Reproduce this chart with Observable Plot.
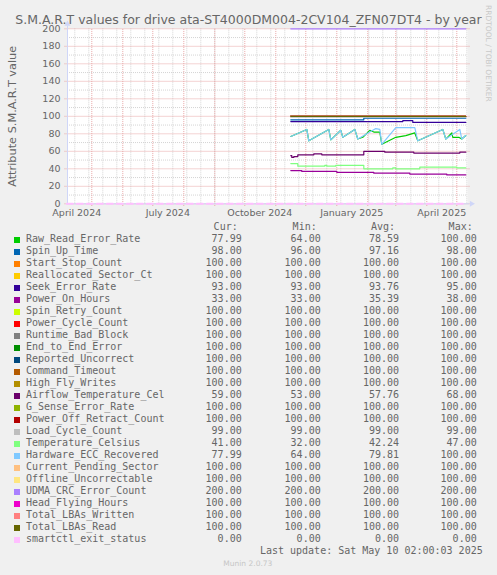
<!DOCTYPE html>
<html><head><meta charset="utf-8">
<script src="https://cdn.jsdelivr.net/npm/d3@7"></script>
<script src="https://cdn.jsdelivr.net/npm/@observablehq/plot@0.6"></script>
<style>
html,body{margin:0;padding:0;background:#f0f0f0;}
#page{position:relative;width:497px;height:575px;overflow:hidden;background:#f0f0f0;font-family:"DejaVu Sans",sans-serif;color:#666;}
.abs{position:absolute;white-space:pre;}
#title{left:0;top:15.67px;width:497px;text-align:center;font-size:12.5px;line-height:8px;}
#chart{position:absolute;left:0;top:24px;}
#rrd{left:483.5px;top:5px;font-size:7.5px;line-height:8px;writing-mode:vertical-rl;color:#c8c8c8;}
.mono{font-family:"DejaVu Sans Mono",monospace;font-size:10px;line-height:12px;}
#munin{left:223.3px;top:559.9px;font-size:7.5px;line-height:8px;color:#c6c6c6;}
</style></head><body>
<div id="page">
  <div id="title" class="abs">S.M.A.R.T values for drive ata-ST4000DM004-2CV104_ZFN07DT4 - by year</div>
  <div id="rrd" class="abs">RRDTOOL / TOBI OETIKER</div>
  <div id="chart"></div>
  <div id="legend"></div>
  <div id="munin" class="abs">Munin 2.0.73</div>
</div>
<script>
// ---- legend / series metadata ----
const names = ["Raw_Read_Error_Rate","Spin_Up_Time","Start_Stop_Count","Reallocated_Sector_Ct","Seek_Error_Rate","Power_On_Hours","Spin_Retry_Count","Power_Cycle_Count","Runtime_Bad_Block","End_to_End_Error","Reported_Uncorrect","Command_Timeout","High_Fly_Writes","Airflow_Temperature_Cel","G_Sense_Error_Rate","Power_Off_Retract_Count","Load_Cycle_Count","Temperature_Celsius","Hardware_ECC_Recovered","Current_Pending_Sector","Offline_Uncorrectable","UDMA_CRC_Error_Count","Head_Flying_Hours","Total_LBAs_Written","Total_LBAs_Read","smartctl_exit_status"];
const colors = ["#00CC00","#0066B3","#FF8000","#FFCC00","#330099","#990099","#CCFF00","#FF0000","#808080","#008F00","#00487D","#B35A00","#B38F00","#6B006B","#8FB300","#B30000","#BEBEBE","#80FF80","#80C9FF","#FFC080","#FFE680","#AA80FF","#EE00CC","#FF8080","#666600","#FFBFFF"];
const curVals = [77.99,98,100,100,93,33,100,100,100,100,100,100,100,59,100,100,99,41,77.99,100,100,200,100,100,100,0];
const minVals = [64,96,100,100,93,33,100,100,100,100,100,100,100,53,100,100,99,32,64,100,100,200,100,100,100,0];
const avgVals = [78.59,97.16,100,100,93.76,35.39,100,100,100,100,100,100,100,57.76,100,100,99,42.24,79.81,100,100,200,100,100,100,0];
const maxVals = [100,98,100,100,95,38,100,100,100,100,100,100,100,68,100,100,99,47,100,100,100,200,100,100,100,0];
const colHeaders = ["Cur:","Min:","Avg:","Max:"];
const lastUpdate = "Last update: Sat May 10 02:00:03 2025";

// ---- axis ticks ----
const yTicks = [0,20,40,60,80,100,120,140,160,180,200];
const xTickDates = ["2024-04-16","2024-07-16","2024-10-16","2025-01-16","2025-04-16"];
const xTickLabels = ["April 2024","July 2024","October 2024","January 2025","April 2025"];

// ---- series values (date, value) ----
const seriesStart = "2024-11-16", seriesEnd = "2025-05-10";
const rawReadErrorRate = [["2024-11-16",77],["2024-12-02",85],["2024-12-04",72],["2024-12-24",85],["2024-12-26",73],["2025-01-05",84],["2025-01-07",76],["2025-01-19",85],["2025-01-22",74],["2025-01-27",76],["2025-02-03",84],["2025-02-07",82],["2025-02-13",82],["2025-02-15",68],["2025-02-22",72],["2025-03-01",76],["2025-03-11",78],["2025-03-20",81],["2025-03-23",72],["2025-04-17",85],["2025-04-20",74],["2025-04-26",81],["2025-04-27",76],["2025-05-03",76],["2025-05-06",74],["2025-05-10",78]];
const spinUpTime = [["2024-11-16",96],["2025-01-28",98],["2025-05-10",98]];
const startStopCount = [[seriesStart,100],[seriesEnd,100]];
const reallocatedSectorCt = [[seriesStart,100],[seriesEnd,100]];
const seekErrorRate = [["2024-11-16",94],["2025-03-08",95],["2025-03-18",93],["2025-05-10",93]];
const powerOnHours = [["2024-11-16",38],["2024-11-27",37],["2025-01-01",36],["2025-02-07",35],["2025-03-15",34],["2025-04-21",33],["2025-05-10",33]];
const spinRetryCount = [[seriesStart,100],[seriesEnd,100]];
const powerCycleCount = [[seriesStart,100],[seriesEnd,100]];
const runtimeBadBlock = [[seriesStart,100],[seriesEnd,100]];
const endToEndError = [[seriesStart,100],[seriesEnd,100]];
const reportedUncorrect = [[seriesStart,100],[seriesEnd,100]];
const commandTimeout = [[seriesStart,100],[seriesEnd,100]];
const highFlyWrites = [[seriesStart,100],[seriesEnd,100]];
const airflowTemperatureCel = [["2024-11-16",55],["2024-11-17",53],["2024-11-19",54],["2024-11-23",56],["2024-12-09",57],["2024-12-17",56],["2025-01-28",60],["2025-02-18",59],["2025-03-19",58],["2025-05-04",59],["2025-05-10",59]];
const gSenseErrorRate = [[seriesStart,100],[seriesEnd,100]];
const powerOffRetractCount = [[seriesStart,100],[seriesEnd,100]];
const loadCycleCount = [[seriesStart,99],[seriesEnd,99]];
const temperatureCelsius = [["2024-11-16",46],["2024-11-23",43],["2024-12-20",44],["2024-12-22",43],["2024-12-31",44],["2025-01-28",40],["2025-02-26",41],["2025-03-01",40],["2025-03-25",42],["2025-05-01",41],["2025-05-10",41]];
const hardwareEccRecovered = [["2024-11-16",77],["2024-12-02",85],["2024-12-04",72],["2024-12-24",85],["2024-12-26",73],["2025-01-05",84],["2025-01-07",76],["2025-01-19",85],["2025-01-22",74],["2025-02-09",86],["2025-02-13",85],["2025-02-15",68],["2025-03-01",87],["2025-03-20",87],["2025-03-23",72],["2025-04-17",85],["2025-04-20",74],["2025-05-04",85],["2025-05-06",74],["2025-05-10",78]];
const currentPendingSector = [[seriesStart,100],[seriesEnd,100]];
const offlineUncorrectable = [[seriesStart,100],[seriesEnd,100]];
const udmaCrcErrorCount = [[seriesStart,200],[seriesEnd,200]];
const headFlyingHours = [[seriesStart,100],[seriesEnd,100]];
const totalLbasWritten = [[seriesStart,100],[seriesEnd,100]];
const totalLbasRead = [[seriesStart,100],[seriesEnd,100]];
const smartctlExitStatus = [["2024-04-06",0],["2025-05-10",0]];

const seriesPoints = [rawReadErrorRate,spinUpTime,startStopCount,reallocatedSectorCt,seekErrorRate,powerOnHours,spinRetryCount,powerCycleCount,runtimeBadBlock,endToEndError,reportedUncorrect,commandTimeout,highFlyWrites,airflowTemperatureCel,gSenseErrorRate,powerOffRetractCount,loadCycleCount,temperatureCelsius,hardwareEccRecovered,currentPendingSector,offlineUncorrectable,udmaCrcErrorCount,headFlyingHours,totalLbasWritten,totalLbasRead,smartctlExitStatus];
const linearSeries = ["Raw_Read_Error_Rate","Hardware_ECC_Recovered"];

const rows = seriesPoints.flatMap((pts, i) => pts.map(([d, v]) => ({series: names[i], date: new Date(d), value: v})));

// ---- chart ----
const xStart = new Date("2024-04-06T16:48:00Z"), xEnd = new Date("2025-05-11T16:48:00Z");
const DAY = 864e5;
const minorX = d3.utcDay.range(new Date("2024-04-14"), xEnd, 14);
const majorX = d3.utcMonth.range(xStart, xEnd);
const minorY = d3.range(10, 200, 20);
const majorY = yTicks;
const gridMinor = "#d4d4d4", gridMajor = "#e8a6a6", axisColor = "#CFD6F8";

const lineMark = (n) => Plot.line(rows.filter(r => r.series === n), {
  x: "date", y: "value", stroke: "series",
  strokeWidth: n === "smartctl_exit_status" ? 2 : 1.2,
  strokeDasharray: n === "smartctl_exit_status" ? "6,4" : null,
  curve: linearSeries.includes(n) ? "linear" : "step-after"
});

const chart = Plot.plot({
  width: 497, height: 200,
  marginTop: 4.3, marginBottom: 20.7, marginLeft: 67, marginRight: 30,
  style: {background: "transparent", color: "#666", fontFamily: "DejaVu Sans, sans-serif", overflow: "visible"},
  x: {type: "utc", domain: [xStart, xEnd]},
  y: {domain: [0, 200]},
  color: {domain: names, range: colors},
  marks: [
    Plot.frame({fill: "#ffffff", stroke: "none"}),
    Plot.ruleY(minorY, {stroke: gridMinor, strokeDasharray: "1,1"}),
    Plot.ruleX(minorX, {stroke: gridMinor, strokeDasharray: "1,1"}),
    Plot.ruleY(majorY, {x1: () => new Date(+xStart - 2.5 * DAY), x2: () => new Date(+xEnd + 3 * DAY), stroke: gridMajor, strokeDasharray: "1,1"}),
    Plot.ruleX(majorX, {y1: -3, y2: 200, stroke: gridMajor, strokeDasharray: "1,1"}),
    ...names.filter(n => n !== "smartctl_exit_status").map(lineMark),
    Plot.ruleX([xStart], {y1: 0, y2: 203, stroke: axisColor}),
    Plot.dot([xStart], {x: d => d, y: () => 205.5, symbol: "triangle", r: 2.2, fill: axisColor, stroke: "none"}),
    Plot.ruleY([0], {x1: () => xStart, x2: () => new Date(+xEnd + 2 * DAY), stroke: axisColor}),
    Plot.dot([0], {x: () => new Date(+xEnd + 4 * DAY), y: d => d, symbol: "triangle", rotate: 90, r: 2.2, fill: axisColor, stroke: "none"}),
    lineMark("smartctl_exit_status"),
    Plot.axisY({ticks: yTicks, tickSize: 0, tickPadding: 7, fontSize: 9.5, label: null, fill: "#666"}),
    Plot.axisX({ticks: xTickDates.map(d => new Date(d)), tickFormat: (d, i) => xTickLabels[i], tickSize: 0, tickPadding: 5.5, fontSize: 9.5, label: null, fill: "#666"}),
    Plot.text(["Attribute S.M.A.R.T value"], {frameAnchor: "left", dx: -55, rotate: -90, textAnchor: "middle", fontSize: 11.3, fill: "#666"})
  ]
});
document.getElementById("chart").appendChild(chart);

// ---- legend (below the chart) ----
const legend = d3.select("#legend");
const valueRights = [241.7, 320.7, 399, 476.7];
const rowTop0 = 232.5, rowStep = 12;
colHeaders.forEach((h, j) => {
  legend.append("div").attr("class", "abs mono").style("right", (497 - valueRights[j] + 4) + "px").style("top", (rowTop0 - rowStep) + "px").text(h);
});
const stats = [curVals, minVals, avgVals, maxVals];
names.forEach((n, i) => {
  const top = rowTop0 + i * rowStep;
  legend.append("div").attr("class", "abs").style("left", "14px").style("top", (top + 4.5) + "px").style("width", "6px").style("height", "6px").style("background", colors[i]);
  legend.append("div").attr("class", "abs mono").style("left", "26px").style("top", top + "px").text(n);
  stats.forEach((arr, j) => {
    legend.append("div").attr("class", "abs mono").style("right", (497 - valueRights[j]) + "px").style("top", top + "px").text(arr[i].toFixed(2));
  });
});
legend.append("div").attr("class", "abs mono").style("right", (497 - 482.7) + "px").style("top", (rowTop0 + names.length * rowStep) + "px").text(lastUpdate);
</script>
</body></html>
